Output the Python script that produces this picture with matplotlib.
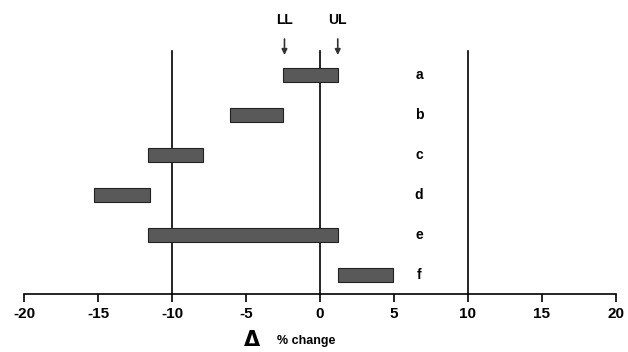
import matplotlib
matplotlib.use("Agg")
import matplotlib.pyplot as plt

# ranges of % change for each case (lower, upper)
labels = ["a", "b", "c", "d", "e", "f"]
lower = [-2.5, -6.1, -11.6, -15.3, -11.6, 1.2]
upper = [1.2, -2.5, -7.9, -11.5, 1.2, 4.9]
ref_lines = [-10, 0, 10]
ll_value = -2.4
ul_value = 1.2
xticks = [-20, -15, -10, -5, 0, 5, 10, 15, 20]

plt.rcParams['font.family'] = ['Liberation Sans', 'DejaVu Sans']

fig = plt.figure(figsize=(6.28, 3.52), dpi=100)
ax = fig.add_axes([24 / 628, 58 / 352, 592 / 628, 283 / 352])

ypos = list(range(len(labels), 0, -1))
widths = [u - l for l, u in zip(lower, upper)]
ax.barh(ypos, widths, left=lower, height=0.35, color="#595959",
        edgecolor="#222222", linewidth=0.8, zorder=3)

for x in ref_lines:
    ax.plot([x, x], [0.525, 6.6], color="black", lw=1.2, zorder=2)

for y, lab in zip(ypos, labels):
    ax.text(6.7, y, lab, ha="center", va="center", fontsize=10, fontweight="bold")

# LL / UL markers
for x, txt in [(ll_value, "LL"), (ul_value, "UL")]:
    ax.annotate("", xy=(x, 6.5), xytext=(x, 6.9),
                arrowprops=dict(arrowstyle="-|>", color="#333333", lw=1.2,
                                mutation_scale=8, shrinkA=0, shrinkB=0))
    ax.text(x, 7.38, txt, ha="center", va="center", fontsize=10, fontweight="bold")

ax.set_xlim(-20, 20)
ax.set_ylim(0.525, 7.6)
ax.set_xticks(xticks)
ax.set_xticklabels([str(t) for t in xticks], fontsize=11, fontweight="bold")
ax.set_yticks([])
for s in ["top", "left", "right"]:
    ax.spines[s].set_visible(False)
ax.spines["bottom"].set_linewidth(1.2)
ax.tick_params(axis="x", direction="out", length=6, width=1.2, pad=3)

fig.text(252 / 628, 12 / 352, "Δ", ha="center", va="center", fontsize=15,
         fontweight="bold", family="DejaVu Sans")
fig.text(306 / 628, 11 / 352, "% change", ha="center", va="center", fontsize=9, fontweight="bold")

fig.savefig("out.png", dpi=100)
